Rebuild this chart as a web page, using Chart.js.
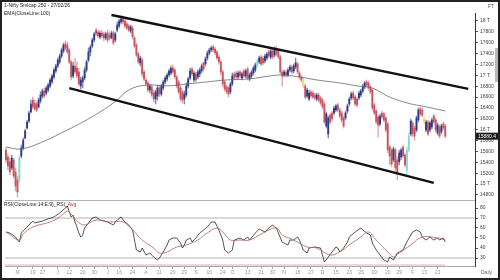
<!DOCTYPE html>
<html>
<head>
<meta charset="utf-8">
<script src="https://cdn.jsdelivr.net/npm/chart.js@4.4.1/dist/chart.umd.min.js"></script>
<style>
  html, body { margin: 0; padding: 0; background: #fff; }
  #wrap { position: relative; width: 500px; height: 280px; overflow: hidden; background: #fff; }
  #priceChart { position: absolute; left: 0; top: 0; }
  #rsiChart { position: absolute; left: 0; top: 200px; }
  #scroll { position: absolute; left: 495px; top: 48px; width: 3px; height: 34px; background: #b8b8b8; }
  #frame { position: absolute; left: 0; top: 0; width: 500px; height: 280px; box-sizing: border-box; border: 2px solid #222; pointer-events: none; }
</style>
</head>
<body>
<div id="wrap">
  <canvas id="priceChart" width="500" height="200"></canvas>
  <canvas id="rsiChart" width="500" height="80"></canvas>
  <div id="scroll"></div>
  <div id="frame"></div>
</div>
<script>
// daily candles, Nifty Smallcap 250
const opens = [
  15626, 15498, 15406, 15295, 15442, 15222, 15074, 15074, 15516, 15663,
  15847, 16031, 16160, 16326, 16546, 16491, 16473, 16418, 16528, 16620,
  16712, 16675, 16730, 16804, 16878, 16970, 17080, 17172, 17246, 17356,
  17448, 17577, 17558, 17466, 17246, 16988, 17172, 17135, 17062, 16804,
  16878, 16951, 17098, 17282, 17430, 17540, 17650, 17834, 17798, 17706,
  17779, 17761, 17687, 17779, 17742, 17687, 17779, 17650, 17834, 17908,
  17982, 18037, 18000, 17945, 17908, 17816, 17871, 17687, 17558, 17393,
  17227, 17282, 17062, 16914, 16859, 16730, 16786, 16675, 16565, 16620,
  16767, 16657, 16767, 16878, 16933, 17006, 17043, 17135, 17098, 16970,
  16878, 16767, 16694, 16565, 16638, 16804, 16951, 17117, 16914, 17025,
  16970, 17025, 17080, 17227, 17209, 17319, 17411, 17466, 17522, 17485,
  17430, 17338, 17246, 17062, 16878, 16786, 16767, 16694, 16841, 17025,
  17043, 16970, 17062, 16951, 17080, 16988, 17117, 16933, 16988, 17043,
  17098, 17172, 17246, 17338, 17319, 17264, 17319, 17430, 17338, 17448,
  17374, 17485, 17448, 17338, 17062, 17006, 17062, 17006, 17098, 17154,
  17080, 17154, 17209, 17043, 16970, 16914, 16804, 16620, 16565, 16694,
  16675, 16638, 16565, 16638, 16583, 16546, 16473, 16068, 15921, 16270,
  16307, 16307, 16362, 16454, 16362, 16307, 16215, 16215, 16344, 16473,
  16583, 16675, 16602, 16565, 16583, 16638, 16712, 16786, 16878, 16859,
  16786, 16730, 16454, 16344, 16234, 16105, 16307, 16289, 16215, 16105,
  15682, 15626, 15442, 15626, 15442, 15406, 15498, 15682, 15534, 15258,
  15626, 15921, 16123, 16031, 15994, 16178, 16381, 16362, 16197, 15994,
  16142, 15994, 16050, 16252, 16178, 15939, 16050, 15958, 16105, 16068
];
const highs = [
  15663, 15553, 15479, 15534, 15479, 15295, 15148, 15516, 15718, 15847,
  16013, 16178, 16344, 16546, 16602, 16546, 16510, 16583, 16694, 16749,
  16767, 16804, 16859, 16951, 17025, 17135, 17209, 17319, 17393, 17503,
  17595, 17632, 17614, 17503, 17282, 17246, 17319, 17246, 17135, 16970,
  16988, 17154, 17282, 17503, 17558, 17687, 17798, 17871, 17834, 17816,
  17834, 17798, 17798, 17834, 17798, 17816, 17816, 17798, 17982, 18037,
  18092, 18092, 18037, 17982, 17945, 17926, 17908, 17724, 17595, 17430,
  17356, 17319, 17098, 16951, 16896, 16841, 16822, 16730, 16730, 16822,
  16822, 16841, 16914, 16988, 17043, 17117, 17172, 17190, 17135, 17006,
  16914, 16804, 16730, 16712, 16859, 16970, 17135, 17154, 17080, 17062,
  17098, 17135, 17209, 17246, 17338, 17448, 17503, 17540, 17558, 17522,
  17466, 17374, 17282, 17098, 16914, 16822, 16804, 16878, 17043, 17062,
  17080, 17080, 17098, 17062, 17117, 17117, 17154, 17043, 17098, 17172,
  17227, 17301, 17356, 17374, 17356, 17393, 17430, 17466, 17485, 17485,
  17522, 17540, 17485, 17374, 17098, 17098, 17098, 17135, 17190, 17190,
  17209, 17319, 17246, 17080, 17006, 16951, 16841, 16767, 16730, 16730,
  16712, 16675, 16675, 16675, 16620, 16583, 16510, 16326, 16252, 16307,
  16344, 16436, 16473, 16491, 16399, 16344, 16252, 16344, 16473, 16602,
  16694, 16712, 16638, 16602, 16712, 16749, 16841, 16896, 16914, 16896,
  16822, 16767, 16491, 16381, 16270, 16289, 16344, 16326, 16252, 16142,
  15718, 15663, 15682, 15663, 15498, 15626, 15663, 15718, 15571, 15682,
  15939, 16197, 16160, 16068, 16252, 16399, 16418, 16399, 16234, 16178,
  16178, 16160, 16215, 16289, 16215, 16123, 16086, 16105, 16142, 16105
];
const lows = [
  15387, 15258, 15166, 15258, 15111, 14872, 14762, 15019, 15479, 15626,
  15829, 16013, 16123, 16307, 16381, 16344, 16326, 16399, 16491, 16583,
  16583, 16638, 16694, 16767, 16841, 16933, 17043, 17135, 17209, 17319,
  17411, 17466, 17393, 17209, 16914, 16951, 17025, 16951, 16804, 16749,
  16767, 16914, 17062, 17246, 17356, 17503, 17614, 17724, 17687, 17669,
  17687, 17632, 17650, 17614, 17650, 17669, 17558, 17614, 17798, 17871,
  17945, 17945, 17871, 17834, 17798, 17779, 17669, 17503, 17338, 17209,
  17172, 16970, 16896, 16804, 16694, 16675, 16602, 16510, 16473, 16546,
  16602, 16620, 16730, 16841, 16896, 16970, 17006, 17025, 16933, 16767,
  16657, 16528, 16491, 16473, 16602, 16767, 16914, 16988, 16878, 16878,
  16933, 16970, 17043, 17080, 17172, 17282, 17374, 17430, 17430, 17374,
  17282, 17209, 17006, 16786, 16712, 16657, 16602, 16657, 16804, 16914,
  16933, 16933, 16951, 16914, 16951, 16951, 16914, 16896, 16951, 17006,
  17062, 17135, 17209, 17172, 17190, 17227, 17282, 17319, 17301, 17301,
  17338, 17356, 17301, 17025, 16804, 16970, 16970, 16970, 17062, 17025,
  17043, 17117, 17025, 16933, 16878, 16767, 16565, 16583, 16528, 16583,
  16565, 16546, 16528, 16510, 16454, 16381, 16105, 16031, 15847, 16105,
  16160, 16270, 16326, 16326, 16215, 16142, 16031, 16178, 16307, 16436,
  16546, 16546, 16436, 16418, 16546, 16602, 16675, 16749, 16786, 16730,
  16657, 16362, 16270, 16105, 15866, 16068, 16197, 16142, 15958, 15571,
  15350, 15314, 15406, 15240, 15074, 15350, 15442, 15479, 15314, 15166,
  15590, 15884, 15866, 15810, 15958, 16142, 16252, 16234, 16105, 15958,
  15884, 15958, 16013, 16105, 15958, 15902, 15847, 15921, 15994, 15847
];
const closes = [
  15442, 15332, 15222, 15479, 15148, 14964, 14854, 15479, 15663, 15810,
  15976, 16142, 16307, 16473, 16418, 16381, 16362, 16546, 16638, 16712,
  16620, 16767, 16822, 16914, 16988, 17098, 17172, 17282, 17356, 17466,
  17558, 17503, 17430, 17246, 16970, 17172, 17062, 16988, 16841, 16914,
  16951, 17098, 17246, 17430, 17522, 17650, 17761, 17761, 17724, 17779,
  17724, 17687, 17761, 17650, 17687, 17779, 17595, 17761, 17926, 18000,
  18037, 17982, 17908, 17871, 17834, 17890, 17706, 17540, 17374, 17246,
  17319, 17025, 16933, 16841, 16730, 16804, 16638, 16565, 16694, 16767,
  16657, 16804, 16878, 16951, 17006, 17080, 17135, 17062, 16970, 16804,
  16694, 16565, 16546, 16657, 16804, 16933, 17080, 17025, 17043, 16914,
  17062, 17098, 17172, 17117, 17301, 17411, 17466, 17503, 17466, 17411,
  17319, 17246, 17062, 16841, 16749, 16694, 16657, 16841, 16988, 16951,
  16970, 17043, 16988, 17025, 16988, 17080, 16951, 17006, 17062, 17135,
  17190, 17264, 17319, 17209, 17227, 17356, 17393, 17356, 17448, 17338,
  17466, 17393, 17338, 17062, 16988, 17062, 17006, 17098, 17154, 17062,
  17172, 17227, 17062, 16970, 16914, 16804, 16602, 16730, 16675, 16620,
  16602, 16583, 16638, 16546, 16491, 16418, 16142, 16289, 16215, 16142,
  16197, 16399, 16436, 16362, 16252, 16178, 16068, 16307, 16436, 16565,
  16657, 16583, 16473, 16454, 16675, 16712, 16804, 16859, 16822, 16767,
  16694, 16399, 16307, 16142, 16086, 16252, 16234, 16178, 15994, 15626,
  15516, 15369, 15645, 15295, 15222, 15571, 15626, 15516, 15350, 15626,
  15884, 16160, 15921, 15884, 16215, 16362, 16289, 16270, 16142, 16142,
  15921, 16123, 16178, 16142, 15994, 16086, 15884, 16068, 16031, 15880.4
];
// candles the platform highlights
const cyanDays = [7, 131, 209, 210];
const yellowDays = [155, 218];

// EMA(100) read at a few days
const emaIdx = [0, 8, 19, 32, 40, 49, 58, 64, 73, 84, 94, 105, 115, 127, 138, 144, 153, 162, 174, 183, 191, 200, 211, 217, 229];
const emaVal = [15680, 15645, 15775, 15995, 16140, 16325, 16545, 16730, 16820, 16805, 16840, 16880, 16915, 16935, 16990, 17005, 16970, 16915, 16860, 16805, 16765, 16600, 16475, 16435, 16345];

// channel lines (day, price)
const upperIdx = [55, 241];
const upperVal = [18110, 16750];
const lowerIdx = [33, 223];
const lowerVal = [16765, 15020];

// RSI(14) and its 9-day average
const rsiIdx = [0, 2, 5, 6, 7, 8, 11, 14, 15, 19, 25, 28, 31, 32, 33, 34, 35, 36, 37, 38, 39, 40, 41, 43, 45, 47, 49, 53, 56, 57, 58, 60, 62, 64, 66, 67, 68, 70, 71, 73, 75, 77, 79, 80, 82, 84, 85, 87, 89, 91, 92, 93, 94, 96, 97, 99, 101, 105, 107, 109, 111, 113, 114, 116, 118, 119, 122, 124, 126, 127, 130, 132, 135, 137, 139, 140, 141, 142, 144, 147, 148, 150, 152, 153, 155, 157, 158, 161, 164, 165, 166, 168, 170, 172, 173, 174, 176, 178, 179, 182, 185, 186, 188, 190, 191, 193, 195, 197, 199, 200, 202, 204, 205, 207, 209, 211, 212, 214, 216, 217, 219, 221, 223, 225, 226, 228, 229];
const rsiVal = [56, 55, 51, 48, 46, 55, 61, 67, 65, 67, 71, 75, 80, 82, 76, 71, 73, 66, 61, 55, 51, 53, 60, 65, 70, 71, 68, 66, 63, 66, 68, 71, 66, 63, 58, 48, 38, 36, 40, 33, 35, 31, 28, 30, 36, 43, 48, 50, 50, 45, 40, 43, 48, 50, 46, 50, 55, 61, 66, 66, 58, 48, 38, 35, 38, 48, 50, 48, 51, 48, 55, 59, 56, 60, 63, 61, 60, 55, 46, 43, 48, 48, 51, 48, 38, 35, 40, 41, 40, 33, 26, 31, 36, 41, 40, 36, 40, 46, 51, 56, 60, 58, 55, 53, 45, 38, 33, 28, 26, 31, 28, 35, 36, 38, 46, 53, 56, 58, 56, 51, 48, 51, 48, 50, 48, 50, 46];
const avgIdx = [0, 7, 9, 14, 23, 28, 32, 34, 37, 41, 47, 54, 61, 66, 71, 77, 80, 84, 89, 94, 100, 105, 110, 113, 117, 122, 127, 134, 141, 144, 150, 157, 162, 169, 174, 179, 185, 189, 193, 199, 202, 205, 211, 217, 225, 229];
const avgVal = [56, 48, 54, 61, 66, 71, 77, 74, 67, 63, 68, 66, 66, 58, 48, 40, 35, 36, 41, 43, 48, 55, 60, 56, 48, 48, 48, 55, 60, 53, 48, 41, 40, 33, 36, 43, 51, 56, 48, 36, 31, 35, 43, 51, 50, 48];
const rsiFloor = 23;

// axis ticks
const priceTicks = [14800, 15000, 15200, 15400, 15600, 15800, 16000, 16200, 16400, 16600, 16800, 17000, 17200, 17400, 17600, 17800, 18000];
const rsiTicks = [30, 40, 50, 60, 70, 80];
const dayTickIdx = [6, 14, 19, 27, 33, 40, 46, 53, 59, 66, 73, 80, 87, 93, 99, 106, 113, 118, 126, 133, 139, 145, 152, 159, 165, 172, 179, 185, 192, 199, 205, 212, 218, 225];
const dayTickText = ['M', '19', '27', 'J', '12', '20', '30', 'J', '16', '24', 'A', '11', '20', '29', 'S', '16', '24', 'O', '13', '21', '30', 'N', '18', '27', 'D', '15', '23', "'26", '09', '20', '29', 'F', '13', '23'];

const xMax = closes.length + 14.5; // empty days right of the last candle
const fontFamily = "'Liberation Sans', Arial, sans-serif";
const tickFont = { family: fontFamily, size: 5 };

function bodyColor(i) {
  if (cyanDays.includes(i)) return '#86d8d5';
  if (yellowDays.includes(i)) return '#f0d67a';
  return closes[i] >= opens[i] ? '#2b3a86' : '#c9525c';
}
function wickColor(i) {
  if (cyanDays.includes(i)) return '#a3e2e0';
  if (yellowDays.includes(i)) return '#f0d67a';
  return closes[i] >= opens[i] ? '#7c84b0' : '#dca4aa';
}
const pts = (idx, val) => idx.map((x, k) => ({ x: x, y: val[k] }));

const fixY = (s) => { s.width = 25; s.paddingTop = 0; s.paddingBottom = 0; };

const priceDecor = {
  id: 'priceDecor',
  afterDraw(chart) {
    const ctx = chart.ctx;
    const y = chart.scales.y;
    ctx.save();
    ctx.font = '5px ' + fontFamily;
    ctx.textBaseline = 'middle';
    ctx.textAlign = 'left';
    ctx.fillStyle = '#222';
    ctx.fillText('1-Nifty Smlcap 250 - 27/02/26', 4, 6);
    ctx.fillText('EMA(CloseLine:100)', 4, 14);
    ctx.fillStyle = '#555';
    ctx.fillText('FT', 488, 7);
    const last = closes[closes.length - 1];
    const py = y.getPixelForValue(last);
    ctx.fillStyle = '#1b1b1b';
    ctx.fillRect(y.left + 1, py - 3.5, 24, 7);
    ctx.fillStyle = '#fff';
    ctx.fillText(last.toFixed(1), y.left + 3, py);
    ctx.restore();
  }
};

const rsiDecor = {
  id: 'rsiDecor',
  beforeDatasetsDraw(chart) {
    const ctx = chart.ctx;
    const a = chart.chartArea;
    const y = chart.scales.y;
    const x = chart.scales.x;
    ctx.save();
    ctx.strokeStyle = '#b4b4b4';
    ctx.lineWidth = 1.2;
    [a.top + 0.5, y.getPixelForValue(70), y.getPixelForValue(30)].forEach(py => {
      ctx.beginPath();
      ctx.moveTo(a.left, py);
      ctx.lineTo(a.right, py);
      ctx.stroke();
    });
    ctx.strokeStyle = '#e2b0b0';
    ctx.lineWidth = 1;
    const fy = y.getPixelForValue(rsiFloor);
    ctx.beginPath();
    ctx.moveTo(a.left, fy);
    ctx.lineTo(x.getPixelForValue(closes.length - 1), fy);
    ctx.stroke();
    ctx.restore();
  },
  afterDraw(chart) {
    const ctx = chart.ctx;
    ctx.save();
    ctx.font = '5px ' + fontFamily;
    ctx.textBaseline = 'middle';
    ctx.textAlign = 'left';
    const head = 'RSI(CloseLine:14:E:9)_RSI_';
    ctx.fillStyle = '#222';
    ctx.fillText(head, 4, 5);
    ctx.fillStyle = '#c03030';
    ctx.fillText('Avg', 4 + ctx.measureText(head).width, 5);
    ctx.fillStyle = '#666';
    ctx.fillText('Daily', 481, 73);
    ctx.restore();
  }
};

new Chart(document.getElementById('priceChart'), {
  type: 'bar',
  data: {
    datasets: [
      { type: 'line', data: pts(upperIdx, upperVal), borderColor: '#111', borderWidth: 2.4, pointRadius: 0, order: 0 },
      { type: 'line', data: pts(lowerIdx, lowerVal), borderColor: '#111', borderWidth: 2.4, pointRadius: 0, order: 0 },
      { type: 'line', data: pts(emaIdx, emaVal), borderColor: '#6a6a6a', borderWidth: 0.8, pointRadius: 0, tension: 0.4, order: 1 },
      {
        data: closes.map((c, i) => ({ x: i, y: [Math.min(opens[i], c), Math.max(opens[i], c)] })),
        backgroundColor: ctx => bodyColor(ctx.dataIndex),
        barThickness: 1.2, grouped: false, order: 2
      },
      {
        data: closes.map((c, i) => ({ x: i, y: [lows[i], highs[i]] })),
        backgroundColor: ctx => wickColor(ctx.dataIndex),
        barThickness: 0.7, grouped: false, order: 3
      }
    ]
  },
  options: {
    responsive: false,
    animation: false,
    devicePixelRatio: 1,
    layout: { padding: { left: 5, top: 13, right: 0, bottom: 0 } },
    plugins: { legend: { display: false }, tooltip: { enabled: false } },
    scales: {
      x: { type: 'linear', min: -0.5, max: xMax, offset: false, display: false },
      y: {
        position: 'right',
        min: 14706,
        max: 18147,
        afterBuildTicks: s => { s.ticks = priceTicks.map(v => ({ value: v })); },
        afterFit: fixY,
        ticks: {
          font: tickFont, color: '#444', padding: 2,
          callback: v => (v % 1000 === 0 ? (v / 1000) + ' T' : String(v))
        },
        grid: { drawOnChartArea: false, tickLength: 3, color: '#555' },
        border: { color: '#333' }
      }
    }
  },
  plugins: [priceDecor]
});

new Chart(document.getElementById('rsiChart'), {
  type: 'line',
  data: {
    datasets: [
      { data: pts(avgIdx, avgVal), borderColor: '#b0625c', borderWidth: 0.8, pointRadius: 0, tension: 0.4 },
      { data: pts(rsiIdx, rsiVal), borderColor: '#2a2a2a', borderWidth: 0.8, pointRadius: 0, tension: 0 }
    ]
  },
  options: {
    responsive: false,
    animation: false,
    devicePixelRatio: 1,
    layout: { padding: { left: 5, top: 0, right: 0, bottom: 0 } },
    plugins: { legend: { display: false }, tooltip: { enabled: false } },
    scales: {
      x: {
        type: 'linear', min: -0.5, max: xMax, offset: false,
        afterBuildTicks: s => { s.ticks = dayTickIdx.map(v => ({ value: v })); },
        afterFit: s => { s.height = 14; s.paddingLeft = 0; s.paddingRight = 0; },
        ticks: {
          font: tickFont, color: '#999', padding: 1,
          autoSkip: false, maxRotation: 0, minRotation: 0,
          callback: (v, k) => dayTickText[k]
        },
        grid: { drawOnChartArea: false, tickLength: 3, color: '#aaa' },
        border: { color: '#aaa' }
      },
      y: {
        position: 'right',
        min: 22,
        max: 88,
        afterBuildTicks: s => { s.ticks = rsiTicks.map(v => ({ value: v })); },
        afterFit: fixY,
        ticks: { font: tickFont, color: '#444', padding: 2 },
        grid: { drawOnChartArea: false, tickLength: 3, color: '#555' },
        border: { color: '#333' }
      }
    }
  },
  plugins: [rsiDecor]
});
</script>
</body>
</html>
